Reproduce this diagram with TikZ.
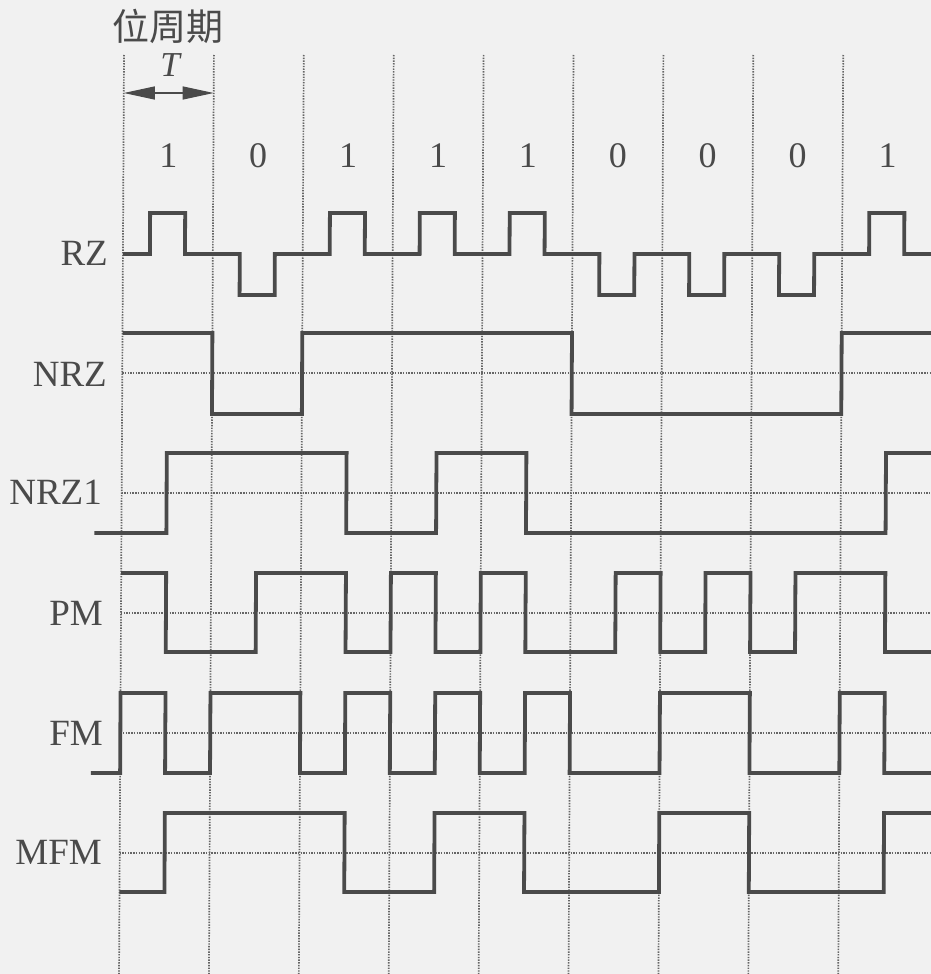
\documentclass[tikz,border=0pt]{standalone}
\usepackage{fontspec}
\setmainfont{Liberation Serif}
\newfontfamily\cjkfont{Noto Sans CJK SC}
\usetikzlibrary{arrows.meta}
\definecolor{bgc}{HTML}{F1F1F1}
\definecolor{wavec}{HTML}{4A4A4A}
\definecolor{gridc}{HTML}{666666}
\tikzset{
  wave/.style={draw=wavec, line width=3.8pt, line join=miter, line cap=butt},
  gridline/.style={draw=gridc, line width=1.7pt, dash pattern=on 1.4pt off 1.3pt},
  lbl/.style={anchor=east, inner sep=0pt, text=wavec, font=\fontsize{37}{40}\selectfont},
  bitlbl/.style={inner sep=0pt, text=wavec, font=\fontsize{36}{40}\selectfont},
}
\begin{document}
\begin{tikzpicture}[x=1pt, y=-1pt]
\fill[bgc] (0,0) rectangle (931,974);
\useasboundingbox (0,0) rectangle (931,974);
\begin{scope}
\clip (0,0) rectangle (931,974);
\begin{scope}[x=89.9pt, y=-1pt, shift={(124.3pt,0pt)}, xslant=0.0054]
  \def\E{9.2}
  % vertical dotted lines
  \foreach \i in {0,...,8} \draw[gridline] (\i,55) -- (\i,980);
  % horizontal dotted mid lines
  \foreach \m in {373,493,613,733,853} \draw[gridline] (0,\m) -- (\E,\m);
  % RZ
  \draw[wave] (0,254) foreach \i/\lv in {0/213,1/295,2/213,3/213,4/213,5/295,6/295,7/295,8/213}
     { -- (\i+0.3,254) -- (\i+0.3,\lv) -- (\i+0.69,\lv) -- (\i+0.69,254) } -- (\E,254);
  % NRZ
  \draw[wave] (0,333) -- (1,333) -- (1,414) -- (2,414) -- (2,333) -- (5,333) -- (5,414)
     -- (8,414) -- (8,333) -- (\E,333);
  % NRZ1
  \draw[wave] (-0.30,533) -- (0.5,533) -- (0.5,453) -- (2.5,453) -- (2.5,533) -- (3.5,533)
     -- (3.5,453) -- (4.5,453) -- (4.5,533) -- (8.5,533) -- (8.5,453) -- (\E,453);
  % PM
  \draw[wave] (0,573) -- (0.5,573) -- (0.5,652) -- (1.5,652) -- (1.5,573) -- (2.5,573)
     -- (2.5,652) -- (3,652) -- (3,573) -- (3.5,573) -- (3.5,652) -- (4,652) -- (4,573)
     -- (4.5,573) -- (4.5,652) -- (5.5,652) -- (5.5,573) -- (6,573) -- (6,652) -- (6.5,652)
     -- (6.5,573) -- (7,573) -- (7,652) -- (7.5,652) -- (7.5,573) -- (8.5,573) -- (8.5,652)
     -- (\E,652);
  % FM
  \draw[wave] (-0.325,773) -- (0,773) -- (0,693) -- (0.5,693) -- (0.5,773) -- (1,773)
     -- (1,693) -- (2,693) -- (2,773) -- (2.5,773) -- (2.5,693) -- (3,693) -- (3,773)
     -- (3.5,773) -- (3.5,693) -- (4,693) -- (4,773) -- (4.5,773) -- (4.5,693) -- (5,693)
     -- (5,773) -- (6,773) -- (6,693) -- (7,693) -- (7,773) -- (8,773) -- (8,693)
     -- (8.5,693) -- (8.5,773) -- (\E,773);
  % MFM
  \draw[wave] (0,892) -- (0.5,892) -- (0.5,813) -- (2.5,813) -- (2.5,892) -- (3.5,892)
     -- (3.5,813) -- (4.5,813) -- (4.5,892) -- (6,892) -- (6,813) -- (7,813) -- (7,892)
     -- (8.5,892) -- (8.5,813) -- (\E,813);
  % period arrow
  \coordinate (ta) at (0,93);
  \coordinate (tb) at (1,93);
  \draw[draw=wavec, line width=1.3pt,
        {Triangle[length=31pt,width=13pt]}-{Triangle[length=31pt,width=13pt]}] (ta) -- (tb);
\end{scope}
\end{scope}
% labels
\node[text=wavec, inner sep=0pt, font=\cjkfont\fontsize{37}{40}\selectfont] (title) at (168,26) {位周期};
\node[inner sep=0pt, text=wavec, font=\itshape\fontsize{35}{40}\selectfont] (tlab) at (170,65) {T};
\foreach \b [count=\k from 0] in {1,0,1,1,1,0,0,0,1}
  \node[bitlbl] (bit\k) at ({168.3+89.9*\k},156) {\b};
\node[lbl] (rz)   at (108,253) {RZ};
\node[lbl] (nrz)  at (107,374) {NRZ};
\node[lbl] (nrzi) at (102,492) {NRZ1};
\node[lbl] (pm)   at (103,613) {PM};
\node[lbl] (fm)   at (103,733) {FM};
\node[lbl] (mfm)  at (102,852) {MFM};
\end{tikzpicture}
\end{document}
